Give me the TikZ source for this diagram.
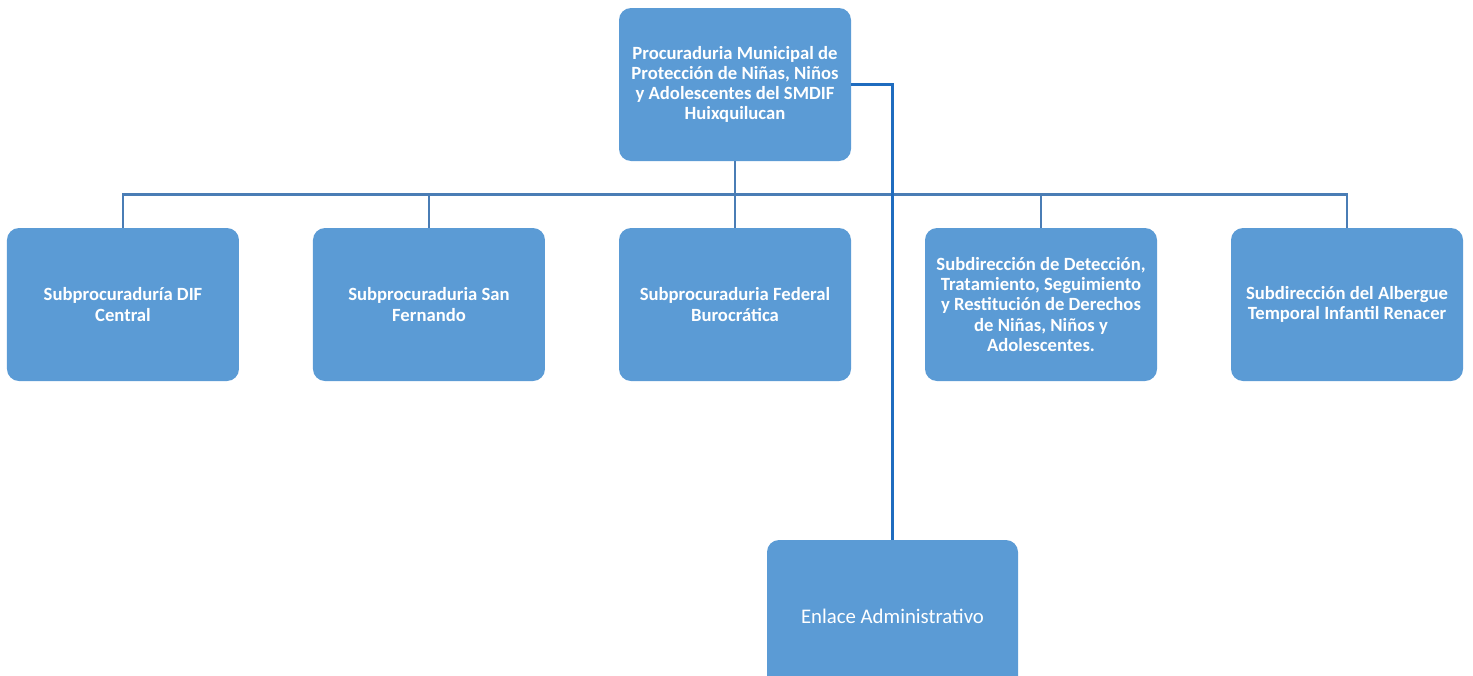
\documentclass[tikz,border=0pt]{standalone}
\usepackage{fontspec}
\setmainfont{Carlito}
\usetikzlibrary{positioning}
\definecolor{boxblue}{HTML}{5B9BD5}
\definecolor{busblue}{HTML}{4A7DB5}
\definecolor{linkblue}{HTML}{1F6CBF}

\begin{document}
\begin{tikzpicture}[node distance=229.5pt,on grid,
    unit/.style={rectangle,rounded corners=9pt,fill=boxblue,text=white,
      minimum width=174pt,minimum height=114.75pt,align=center,
      font=\fontsize{14}{15.2}\selectfont\bfseries},
    bus/.style={draw=busblue,line width=2.1pt},
    link/.style={draw=linkblue,line width=2.1pt}]
  \useasboundingbox (-551.25pt,63.375pt) rectangle (553.5pt,-442.875pt);
  \node[unit] (proc) {Procuraduria Municipal de\\Protección de Niñas, Niños\\y Adolescentes del SMDIF\\Huixquilucan};
  \node[unit] [below=165pt of proc] (fed) {Subprocuraduria Federal\\Burocrática};
  \node[unit] [left=of fed] (sanf) {Subprocuraduria San\\Fernando};
  \node[unit] [left=of sanf] (dif) {Subprocuraduría DIF\\Central};
  \node[unit] [right=of fed] (det) {Subdirección de Detección,\\Tratamiento, Seguimiento\\y Restitución de Derechos\\de Niñas, Niños y\\Adolescentes.};
  \node[unit] [right=of det] (alb) {Subdirección del Albergue\\Temporal Infantil Renacer};
  \node[unit,minimum width=188.25pt,font=\fontsize{15.6}{18}\selectfont] [below right=399pt and 118.125pt of proc] (enl) {Enlace Administrativo};
  \draw[bus] (proc.south) -- ++(0,-24.75pt) coordinate (split);
  \foreach \n in {dif,sanf,fed,det,alb}
    \draw[bus] (split) -| (\n.north);
  \draw[link] (proc.east) -| (enl.north);
\end{tikzpicture}
\end{document}
